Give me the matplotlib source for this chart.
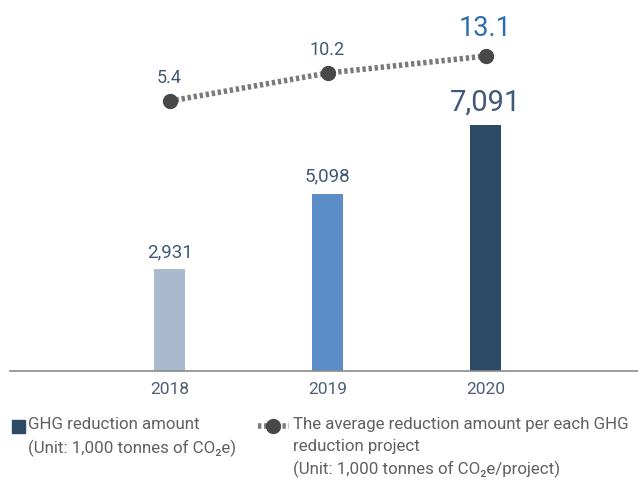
import matplotlib
matplotlib.use("Agg")
import matplotlib.pyplot as plt
from matplotlib.lines import Line2D
from matplotlib.patches import Rectangle

plt.rcParams['font.family'] = ['Roboto', 'DejaVu Sans']

years = ['2018', '2019', '2020']
ghg_amount = [2931, 5098, 7091]          # 1,000 tonnes of CO2e
avg_per_project = [5.4, 10.2, 13.1]      # 1,000 tonnes of CO2e / project
bar_colors = ['#aabace', '#5b8ec6', '#2d4a65']
bar_labels = ['2,931', '5,098', '7,091']
bar_label_sizes = [13.5, 13.5, 21]
line_labels = ['5.4', '10.2', '13.1']
line_label_sizes = [13, 13, 19.5]
line_label_colors = ['#41587a', '#41587a', '#2a6db0']

fig = plt.figure(figsize=(6.38, 4.8), dpi=100)
W, H = 638, 480

ax = fig.add_axes([10 / W, 1 - 371 / H, 628 / W, 371 / H])
x = list(range(len(years)))
ax.bar(x, ghg_amount, width=31 / 158, color=bar_colors, zorder=2)
ax.set_xlim(-1.01, 2.965)
ax.set_ylim(0, 10695)
for i, v in enumerate(ghg_amount):
    ax.annotate(bar_labels[i], (i, v), xytext=(0, 6), textcoords='offset points',
                ha='center', va='bottom', fontsize=bar_label_sizes[i], color='#41587a')

for s in ['top', 'right', 'left']:
    ax.spines[s].set_visible(False)
ax.spines['bottom'].set_color('#8a8a8a')
ax.spines['bottom'].set_linewidth(1.2)
ax.set_yticks([])
ax.set_xticks(x)
ax.set_xticklabels(years, fontsize=12.5, color='#4d5e76')
ax.tick_params(axis='x', length=0, pad=8)

# average reduction per project on its own scale
ax2 = ax.twinx()
ax2.set_ylim(-40.8, 22.7)
ax2.axis('off')
ax2.plot(x, avg_per_project, color='#7a7a7a', linestyle=(0, (0.6, 0.5)), linewidth=4,
         zorder=3)
ax2.plot(x, avg_per_project, 'o', color='#484848', markersize=10, zorder=4)
for i, v in enumerate(avg_per_project):
    ax2.annotate(line_labels[i], (i, v), xytext=(0, 10), textcoords='offset points',
                 ha='center', va='bottom', fontsize=line_label_sizes[i],
                 color=line_label_colors[i])

# legend drawn by hand
txt = '#606060'
fig.patches.append(Rectangle((12 / W, 1 - 433 / H), 13 / W, 13 / H,
                             transform=fig.transFigure, color='#2d4a65'))
fig.text(28 / W, 1 - 417 / H, 'GHG reduction amount\n(Unit: 1,000 tonnes of CO\u2082e)',
         fontsize=12.2, color=txt, va='top', ha='left', linespacing=1.55)
fig.lines.append(Line2D([258 / W, 289 / W], [1 - 426 / H, 1 - 426 / H],
                        transform=fig.transFigure, color='#7a7a7a',
                        linestyle=(0, (0.6, 0.5)), linewidth=4))
fig.lines.append(Line2D([273 / W], [1 - 426 / H], transform=fig.transFigure,
                        marker='o', color='#484848', markersize=10))
fig.text(293 / W, 1 - 417 / H,
         'The average reduction amount per each GHG\nreduction project\n'
         '(Unit: 1,000 tonnes of CO\u2082e/project)',
         fontsize=12.2, color=txt, va='top', ha='left', linespacing=1.55)

fig.savefig('out.png', dpi=100)
